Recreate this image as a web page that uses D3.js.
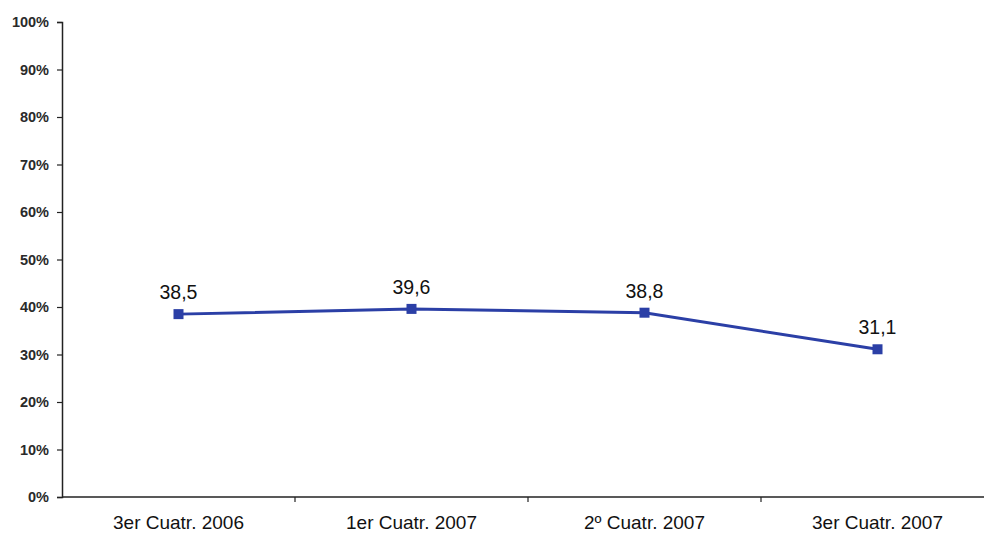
<!DOCTYPE html>
<html>
<head>
<meta charset="utf-8">
<script src="https://cdn.jsdelivr.net/npm/d3@7"></script>
<style>
  html, body { margin: 0; padding: 0; background: #fff; }
  svg { display: block; font-family: "Liberation Sans", Arial, sans-serif; }
</style>
</head>
<body>
<svg id="chart" width="984" height="533"></svg>
<script>
// Periods on the x axis
const categories = ["3er Cuatr. 2006", "1er Cuatr. 2007", "2º Cuatr. 2007", "3er Cuatr. 2007"];
// Percentage for each period
const values = [38.5, 39.6, 38.8, 31.1];
// Y axis tick values (percent)
const yTicks = [0, 10, 20, 30, 40, 50, 60, 70, 80, 90, 100];

const svg = d3.select("#chart");
const margin = { left: 62, right: -10, top: 22, bottom: 36 };
const W = 984, H = 533;

const x = d3.scaleBand()
  .domain(categories)
  .range([margin.left, W - margin.right])
  .paddingInner(0).paddingOuter(0);

const y = d3.scaleLinear()
  .domain([0, 100])
  .range([H - margin.bottom, margin.top]);

// Y axis
const yAxis = d3.axisLeft(y)
  .tickValues(yTicks)
  .tickFormat(d => d + "%")
  .tickSize(5)
  .tickPadding(8);

const gy = svg.append("g")
  .attr("transform", `translate(${margin.left},0)`)
  .call(yAxis);
gy.attr("font-size", null).attr("font-family", null);
gy.select(".domain").attr("stroke", "#222").attr("stroke-width", 1.5);
gy.selectAll(".tick line").attr("stroke", "#222").attr("stroke-width", 1.2);
gy.selectAll(".tick text")
  .style("font-size", "14.5px")
  .style("font-weight", "bold")
  .attr("fill", "#2a2a2a");

// X axis with ticks at band boundaries
const gx = svg.append("g")
  .attr("transform", `translate(0,${y(0)})`);
gx.append("line")
  .attr("x1", margin.left).attr("x2", W)
  .attr("stroke", "#222").attr("stroke-width", 1.5);
const boundaries = categories.slice(1).map(c => x(c));
gx.selectAll("line.tick")
  .data(boundaries)
  .join("line")
  .attr("class", "tick")
  .attr("x1", d => d).attr("x2", d => d)
  .attr("y1", 0).attr("y2", 5)
  .attr("stroke", "#222").attr("stroke-width", 1.2);
gx.selectAll("text")
  .data(categories)
  .join("text")
  .attr("x", d => x(d) + x.bandwidth() / 2)
  .attr("y", 32)
  .attr("text-anchor", "middle")
  .style("font-size", "19px")
  .attr("fill", "#111")
  .text(d => d);

// Series line
const pts = categories.map((c, i) => ({ c, v: values[i] }));
const line = d3.line()
  .x(d => x(d.c) + x.bandwidth() / 2)
  .y(d => y(d.v));

svg.append("path")
  .datum(pts)
  .attr("d", line)
  .attr("fill", "none")
  .attr("stroke", "#2b3fa6")
  .attr("stroke-width", 3);

// Square markers
svg.selectAll("rect.marker")
  .data(pts)
  .join("rect")
  .attr("class", "marker")
  .attr("x", d => x(d.c) + x.bandwidth() / 2 - 5)
  .attr("y", d => y(d.v) - 5)
  .attr("width", 10).attr("height", 10)
  .attr("fill", "#2b3fa6");

// Value labels
svg.selectAll("text.label")
  .data(pts)
  .join("text")
  .attr("class", "label")
  .attr("x", d => x(d.c) + x.bandwidth() / 2)
  .attr("y", d => y(d.v) - 15)
  .attr("text-anchor", "middle")
  .style("font-size", "19.5px")
  .attr("fill", "#111")
  .text(d => String(d.v).replace(".", ","));
</script>
</body>
</html>
